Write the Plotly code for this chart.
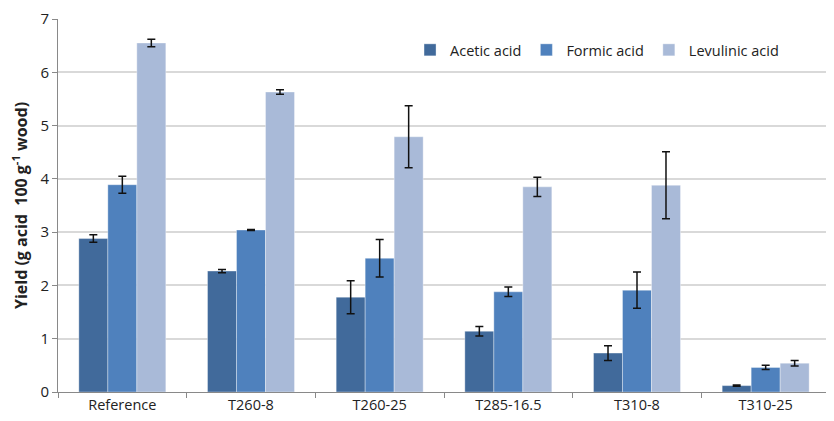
import plotly.graph_objects as go

categories = ["Reference", "T260-8", "T260-25", "T285-16.5", "T310-8", "T310-25"]
acetic = [2.88, 2.27, 1.78, 1.14, 0.73, 0.12]
acetic_err = [0.07, 0.03, 0.31, 0.09, 0.14, 0.01]
formic = [3.89, 3.04, 2.51, 1.88, 1.91, 0.46]
formic_err = [0.16, 0.01, 0.35, 0.09, 0.34, 0.04]
levulinic = [6.55, 5.63, 4.79, 3.85, 3.88, 0.54]
levulinic_err = [0.07, 0.04, 0.58, 0.18, 0.63, 0.05]

series = [
    ("Acetic acid", acetic, acetic_err, "#416A9B"),
    ("Formic acid", formic, formic_err, "#4F81BD"),
    ("Levulinic acid", levulinic, levulinic_err, "#A9BAD8"),
]

font_family = "'Open Sans', 'Noto Sans', sans-serif"

fig = go.Figure()
for name, vals, errs, color in series:
    fig.add_trace(go.Bar(
        x=categories, y=vals, name=name,
        marker=dict(color=color, line=dict(color="rgba(255,255,255,0.35)", width=1)),
        error_y=dict(type="data", array=errs, visible=True, color="#111111",
                     thickness=1.5, width=4),
    ))

# page body has an 8px margin, so the figure is sized and offset to compensate
fig.update_layout(
    width=826, height=413,
    margin=dict(l=50, r=4, t=11, b=29, autoexpand=False),
    barmode="group", bargap=0.324, bargroupgap=0,
    plot_bgcolor="white", paper_bgcolor="white",
    font=dict(family=font_family, size=14, color="#222222"),
    legend=dict(orientation="h", x=0.456, xanchor="left", y=0.96, yanchor="top",
                font=dict(size=14.5), bgcolor="rgba(0,0,0,0)", tracegroupgap=0),
    showlegend=True,
)
fig.update_xaxes(
    type="category", tickson="boundaries", ticks="outside", ticklen=5,
    tickcolor="#898989", showline=True, linecolor="#898989", linewidth=1,
    tickfont=dict(size=14.5), showgrid=False,
)
fig.update_yaxes(
    range=[0, 7], dtick=1, ticks="outside", ticklen=5, tickcolor="#898989",
    showline=True, linecolor="#898989", linewidth=1,
    showgrid=True, gridcolor="#D9D9D9", gridwidth=1.5,
    tickfont=dict(size=15), zeroline=False, automargin=False,
    title=dict(text="<b>Yield (g acid\u00a0 100 g<sup>-1</sup> wood)</b>", font=dict(size=16), standoff=10),
)

fig.write_html("out.html")
